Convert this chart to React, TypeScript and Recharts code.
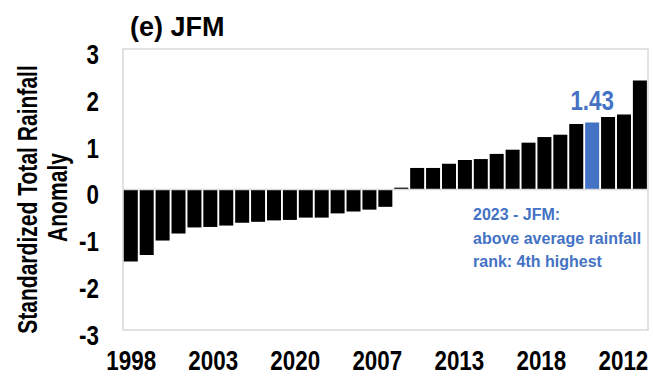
import React from 'react';
import { BarChart, Bar, XAxis, YAxis, ReferenceArea, ReferenceLine, LabelList, Label, Cell } from 'recharts';

// Years ranked from driest to wettest JFM season
const years = [
  '1998', '1999', '2000', '2011', '2009', '2003', '2002', '1992', '2005', '2006', '2020',
  '1997', '1993', '2008', '2001', '2007', '2004', '2016', '1995', '2019', '2013', '1994',
  '2014', '1991', '2022', '2018', '2017', '2021', '1996', '2023', '2012', '2010', '2015',
];

const anomalies = [
  -1.54, -1.4, -1.09, -0.94, -0.81, -0.8, -0.77, -0.71, -0.69, -0.66, -0.65,
  -0.6, -0.6, -0.51, -0.47, -0.43, -0.37, 0.04, 0.46, 0.46, 0.55, 0.63,
  0.65, 0.76, 0.85, 1.0, 1.12, 1.17, 1.4, 1.43, 1.55, 1.6, 2.33,
];

const yTicks = [-3, -2, -1, 0, 1, 2, 3];

// every fifth rank gets a year label; the label axis runs on 35 slots
const labelSlots = 35;
const labelRanks = [0, 5, 10, 15, 20, 25, 30];

const currentYear = '2023';
const noteLines = ['2023 - JFM:', 'above average rainfall', 'rank: 4th highest'];

const BLUE = '#4472C4';
const FRAME = '#d9d9d9';
const SANS = '"Liberation Sans", Arial, sans-serif';
const SQUEEZE = 0.8; // narrow-face look for the numbers

const data = years.map((year, i) => ({ year, value: anomalies[i] }));

const boldStyle = (size: number, fill = '#000') => ({
  fontFamily: SANS,
  fontSize: size,
  fontWeight: 700,
  fill,
});

const XTick = ({ x, y, payload }: any) => (
  <text
    transform={`translate(${x},${y}) scale(${SQUEEZE},1)`}
    textAnchor="middle"
    dy="0.71em"
    style={boldStyle(28)}
  >
    {years[Math.round(payload.value - 0.5)]}
  </text>
);

const YTick = ({ x, y, payload }: any) => (
  <text
    transform={`translate(${x},${y + 5}) scale(${SQUEEZE},1)`}
    textAnchor="end"
    dy="0.355em"
    style={boldStyle(28)}
  >
    {payload.value}
  </text>
);

const YTitle = ({ viewBox }: any) => {
  const cy = viewBox.y + viewBox.height / 2 + 10;
  return (
    <g style={boldStyle(27)}>
      <text transform={`translate(37,${cy}) rotate(-90) scale(0.78,1)`} textAnchor="middle">
        Standardized Total Rainfall
      </text>
      <text transform={`translate(67,${cy - 2}) rotate(-90) scale(0.78,1)`} textAnchor="middle">
        Anomaly
      </text>
    </g>
  );
};

const ValueTag = (props: any) => {
  const { x, y, width, value, index } = props;
  if (data[index].year !== currentYear) return null;
  return (
    <text
      transform={`translate(${x + width / 2},${y - 13}) scale(${SQUEEZE},1)`}
      textAnchor="middle"
      style={boldStyle(28, BLUE)}
    >
      {Number(value).toFixed(2)}
    </text>
  );
};

export default function App() {
  return (
    <div style={{ position: 'absolute', left: 0, top: 0, width: 653, height: 380, background: '#fff' }}>
      <BarChart
        width={653}
        height={380}
        data={data}
        margin={{ top: 49, right: 5, bottom: 0, left: 0 }}
        barCategoryGap="5%"
      >
        <ReferenceArea y1={-3} y2={3} fill="none" stroke={FRAME} strokeWidth={1.5} ifOverflow="visible" />
        <ReferenceLine y={0} stroke={FRAME} strokeWidth={1.5} />
        <XAxis dataKey="year" hide height={0} />
        <XAxis
          xAxisId="labels"
          type="number"
          domain={[0, labelSlots]}
          ticks={labelRanks.map((r) => r + 0.5)}
          height={50}
          tickLine={false}
          axisLine={false}
          tickMargin={14}
          tick={<XTick />}
        />
        <YAxis
          width={123}
          domain={[-3, 3]}
          ticks={yTicks}
          tickLine={false}
          axisLine={false}
          tickMargin={18}
          tick={<YTick />}
        >
          <Label content={<YTitle />} />
        </YAxis>
        <Bar dataKey="value" fill="#000" isAnimationActive={false}>
          {data.map((d) => (
            <Cell key={d.year} fill={d.year === currentYear ? BLUE : '#000'} />
          ))}
          <LabelList dataKey="value" content={<ValueTag />} />
        </Bar>
      </BarChart>
      <div
        style={{
          position: 'absolute',
          left: 130,
          top: 14,
          fontFamily: SANS,
          fontWeight: 700,
          fontSize: 27,
          lineHeight: 1,
          color: '#000',
          whiteSpace: 'nowrap',
        }}
      >
        (e) JFM
      </div>
      <div
        style={{
          position: 'absolute',
          left: 473,
          top: 203,
          fontFamily: SANS,
          fontWeight: 700,
          fontSize: 16,
          lineHeight: '23.5px',
          color: BLUE,
          whiteSpace: 'nowrap',
        }}
      >
        {noteLines.map((line) => (
          <div key={line}>{line}</div>
        ))}
      </div>
    </div>
  );
}
